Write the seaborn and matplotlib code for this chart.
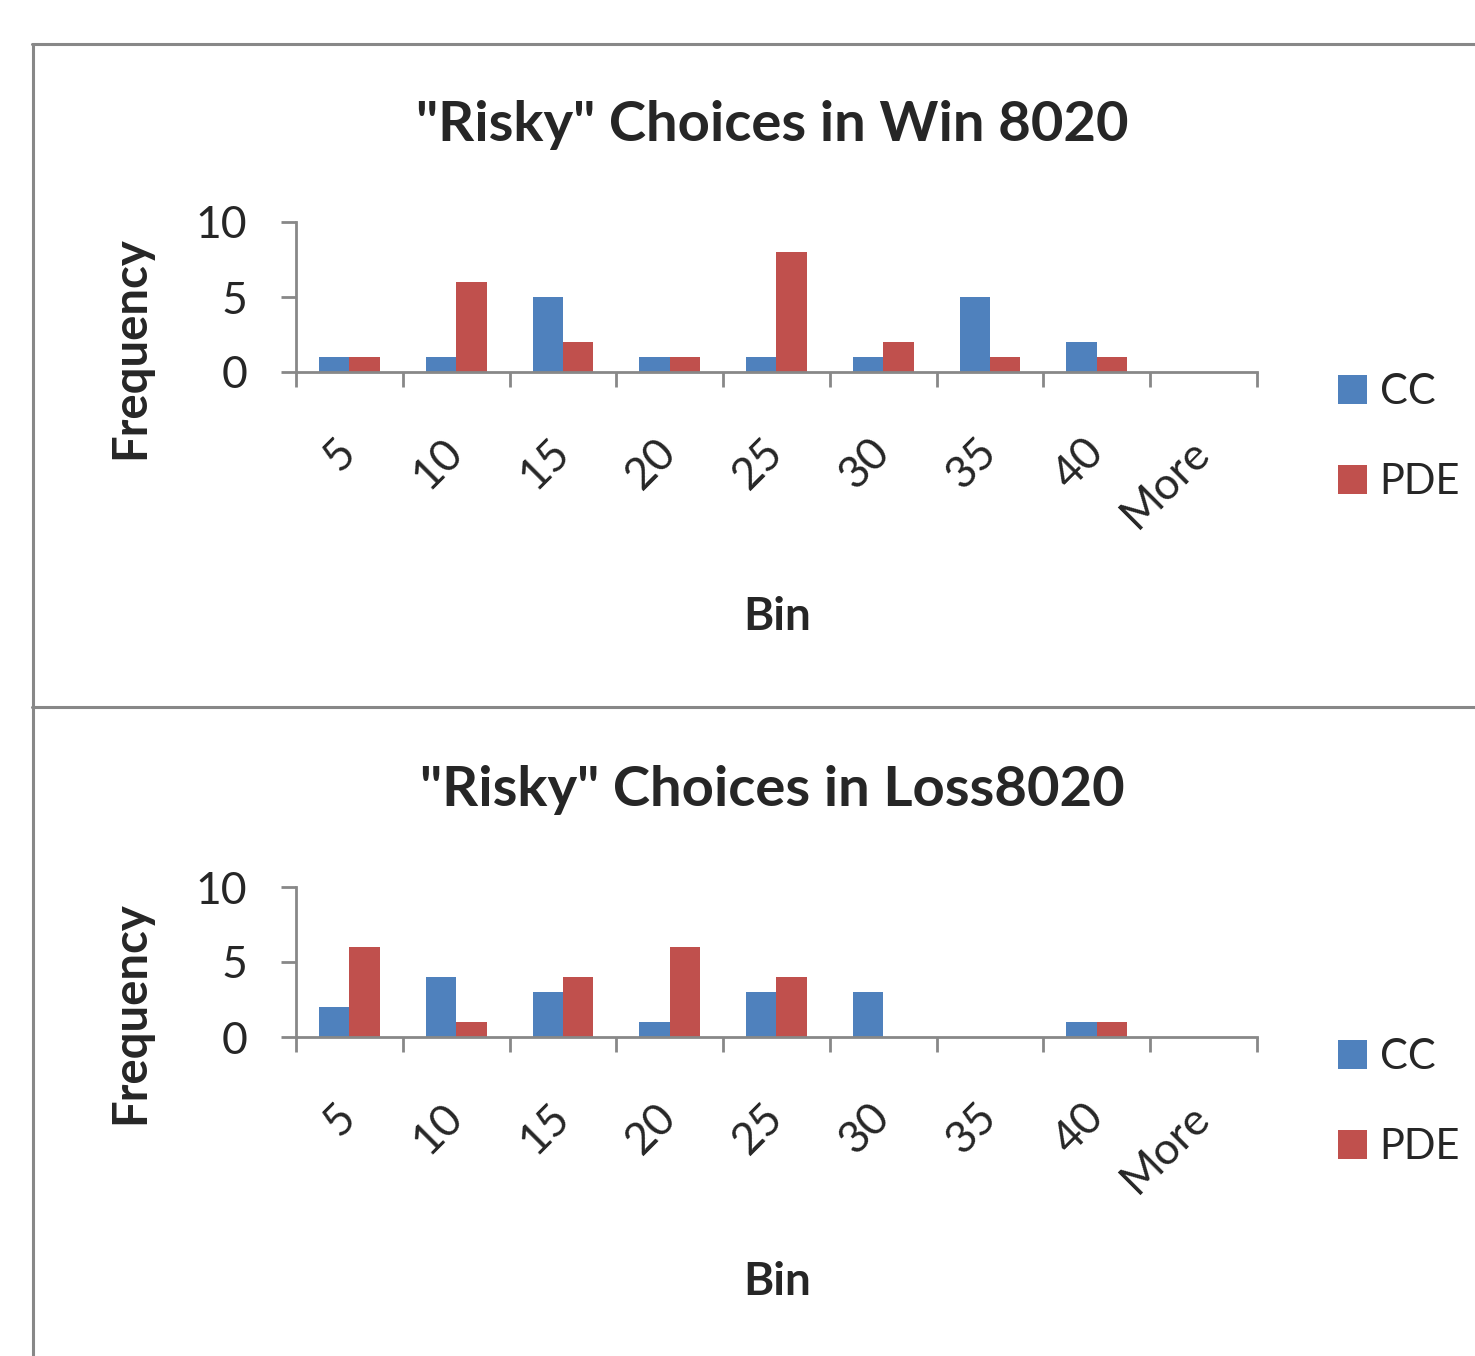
import pandas as pd
import numpy as np
import matplotlib
matplotlib.use("Agg")
import matplotlib.pyplot as plt
import seaborn as sns
from matplotlib.lines import Line2D

# data
bins = ["5", "10", "15", "20", "25", "30", "35", "40", "More"]
series = ["CC", "PDE"]
win_cc = [1, 1, 5, 1, 1, 1, 5, 2, 0]
win_pde = [1, 6, 2, 1, 8, 2, 1, 1, 0]
loss_cc = [2, 4, 3, 1, 3, 3, 0, 1, 0]
loss_pde = [6, 1, 4, 6, 4, 0, 0, 1, 0]
titles = ['"Risky" Choices in Win 8020', '"Risky" Choices in Loss8020']

colors = {"CC": "#4F81BD", "PDE": "#C0504D"}
GRAY = "#888888"
W, H = 1475, 1356

sns.set_style("white")
plt.rcParams["font.family"] = ["Lato", "DejaVu Sans"]


def long_df(cc, pde):
    return pd.DataFrame({
        "Bin": bins * 2,
        "Frequency": cc + pde,
        "Series": ["CC"] * len(bins) + ["PDE"] * len(bins),
    })


def fx(x):
    return x / W


def fy(y):
    return 1 - y / H


fig = plt.figure(figsize=(W / 100, H / 100), dpi=100)

# panel borders
for (x0, y0, x1, y1) in [(32, 44, W, 44), (33, 44, 33, H), (32, 707, W, 707)]:
    fig.add_artist(Line2D([fx(x0), fx(x1)], [fy(y0), fy(y1)], color=GRAY,
                          lw=2.2, transform=fig.transFigure))

panels = [
    (long_df(win_cc, win_pde), titles[0], 0),
    (long_df(loss_cc, loss_pde), titles[1], 665),
]

for df, title, dy in panels:
    top, bottom = 222 + dy, 372 + dy
    ax = fig.add_axes([fx(296), fy(bottom), fx(1257) - fx(296), (bottom - top) / H])
    sns.barplot(data=df, x="Bin", y="Frequency", hue="Series", palette=colors,
                width=0.57, gap=0, saturation=1, linewidth=0, ax=ax)
    ax.set_xlim(-0.5, 8.5)
    ax.set_ylim(0, 10)
    ax.set_yticks([0, 5, 10])
    ax.set_xlabel("")
    ax.set_ylabel("")
    for s in ["top", "right"]:
        ax.spines[s].set_visible(False)
    for s in ["left", "bottom"]:
        ax.spines[s].set_color(GRAY)
        ax.spines[s].set_linewidth(2)

    # tick marks between the bins, labels at the bin centres
    ax.set_xticks(np.arange(-0.5, 9, 1), minor=True)
    ax.tick_params(axis="x", which="major", length=0, pad=53, labelsize=32,
                   labelrotation=45)
    ax.tick_params(axis="x", which="minor", bottom=True, length=11, width=2,
                   color=GRAY, direction="out")
    ax.tick_params(axis="y", length=11, width=2, color=GRAY, pad=24,
                   labelsize=32, direction="out", left=True)
    for lbl in ax.get_xticklabels():
        lbl.set_ha("right")
        lbl.set_va("center")
        lbl.set_rotation_mode("anchor")

    handles, labels = ax.get_legend_handles_labels()
    ax.legend(handles, labels, loc="center left",
              bbox_to_anchor=(fx(1338), fy(437 + dy)), bbox_transform=fig.transFigure,
              frameon=False, fontsize=30, handlelength=0.7, handleheight=0.7,
              handletextpad=0.3, labelspacing=1.25, borderpad=0, borderaxespad=0)

    fig.text(fx(772), fy(125 + dy), title, ha="center", va="center",
             fontsize=40.5, fontweight="bold")
    fig.text(fx(130), fy(348 + dy), "Frequency", ha="center", va="center",
             rotation=90, fontsize=34, fontweight="bold")
    fig.text(fx(777), fy(617 + dy), "Bin", ha="center", va="center",
             fontsize=33, fontweight="bold")

fig.savefig("out.png", dpi=100, facecolor="white")
